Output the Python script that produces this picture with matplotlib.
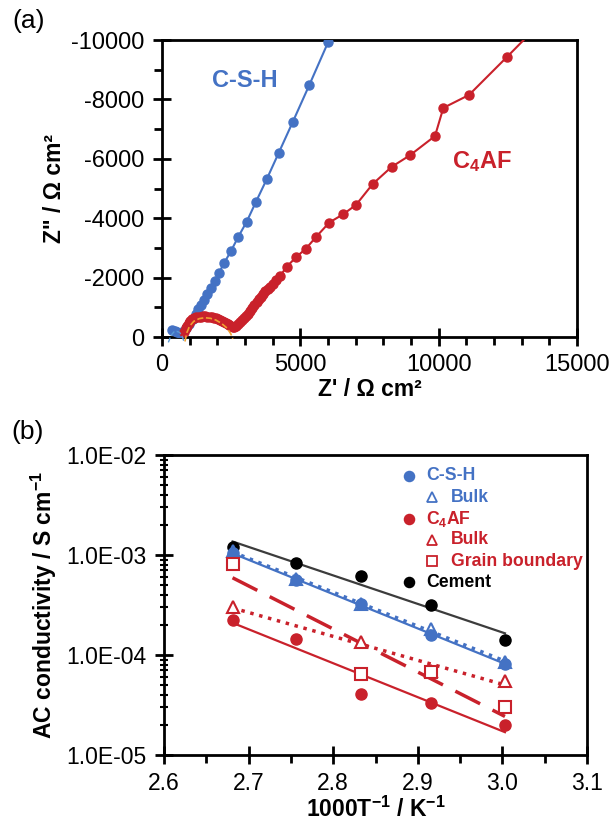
import numpy as np
import matplotlib
matplotlib.use("Agg")
import matplotlib.pyplot as plt
from matplotlib.ticker import MultipleLocator, LogLocator, FuncFormatter, NullFormatter

plt.rcParams['font.family'] = ['Liberation Sans', 'DejaVu Sans']
# every math string in this figure is bold
plt.rcParams['mathtext.fontset'] = 'custom'
plt.rcParams['mathtext.rm'] = 'Liberation Sans:bold'
plt.rcParams['mathtext.default'] = 'rm'
plt.rcParams['axes.unicode_minus'] = False

BLUE = '#4472C4'
RED = '#C9212B'
ORANGE = '#F0A030'
DARK = '#3C3C3C'

# ---- (a) Nyquist data ----
csh_zre = [350, 460, 560, 640, 711, 867, 988, 1108, 1217, 1313, 1410, 1518, 1639,
           1760, 1916, 2060, 2253, 2494, 2759, 3060, 3398, 3783, 4217, 4723, 5325, 6012]
csh_zim = [-230, -200, -160, -150, -178, -293, -438, -616, -774, -933, -1077, -1246, -1438,
           -1640, -1895, -2165, -2502, -2895, -3377, -3880, -4555, -5308, -6197, -7234, -8485, -9943]

c4af_zre = [800, 850, 900, 960, 1020, 1090, 1160, 1240, 1320, 1400, 1480, 1560, 1640, 1720,
            1800, 1880, 1960, 2040, 2110, 2180, 2250, 2310, 2370, 2430, 2490, 2550, 2610,
            2670, 2740, 2810, 2880, 2950, 3020, 3100, 3180, 3260, 3340, 3420, 3500, 3580,
            3660, 3740, 3820, 3900, 4000, 4120, 4265, 4506, 4843, 5205, 5566, 6048, 6554,
            7012, 7614, 8301, 8964, 9867, 10169, 11096, 12482, 13600]
c4af_zim = [-180, -290, -380, -460, -530, -590, -630, -660, -680, -690, -695, -695, -690, -680,
            -670, -655, -635, -610, -580, -545, -505, -465, -425, -390, -360, -345, -350,
            -380, -430, -490, -560, -630, -700, -790, -880, -980, -1080, -1180, -1270, -1360,
            -1450, -1540, -1620, -1700, -1800, -1916, -2050, -2364, -2686, -2977, -3368, -3856, -4137,
            -4448, -5151, -5730, -6120, -6767, -7715, -8150, -9442, -10500]

# equivalent-circuit fit curves
csh_fit_zre = [230, 330, 430, 530, 630, 720, 795]
csh_fit_zim = [180, -60, -170, -190, -160, -40, 150]
c4af_fit_zre = [830, 900, 1000, 1150, 1350, 1550, 1750, 1950, 2150, 2350, 2480, 2560]
c4af_fit_zim = [150, -150, -370, -530, -620, -650, -630, -570, -460, -300, -120, 60]

# ---- (b) Arrhenius data ----
inv_t = [2.681, 2.756, 2.833, 2.916, 3.003]
csh_sigma = [1.05e-3, 5.6e-4, 3.2e-4, 1.6e-4, 8.2e-5]
csh_bulk = [1.1e-3, 5.7e-4, 3.25e-4, 1.8e-4, 8.5e-5]
c4af_sigma = [2.25e-4, 1.45e-4, 4.1e-5, 3.3e-5, 2.0e-5]
c4af_inv_t = [2.681, 2.833, 2.916, 3.003]
c4af_bulk = [3.0e-4, 1.35e-4, 6.9e-5, 5.5e-5]
c4af_gb = [8.2e-4, 6.5e-5, 6.8e-5, 3.0e-5]
cement_sigma = [1.2e-3, 8.4e-4, 6.1e-4, 3.15e-4, 1.42e-4]

fig = plt.figure(figsize=(6.15, 8.22), dpi=100)
ax1 = fig.add_axes([0.2634, 0.5900, 0.6748, 0.3613])
ax2 = fig.add_axes([0.2667, 0.0815, 0.6878, 0.3650])

# ---------------- panel (a) ----------------
ax1.plot(csh_zre, csh_zim, '-o', color=BLUE, lw=1.5, ms=6.5, zorder=3)
ax1.plot(c4af_zre, c4af_zim, '-o', color=RED, lw=1.5, ms=6.5, zorder=3)
ax1.plot(csh_fit_zre, csh_fit_zim, '--', color='#5B9BD5', lw=1, clip_on=False, zorder=4)
ax1.plot(c4af_fit_zre, c4af_fit_zim, '--', color=ORANGE, lw=1.2, clip_on=False, zorder=4)

ax1.set_xlim(0, 15000)
ax1.set_ylim(0, -10000)
ax1.xaxis.set_major_locator(MultipleLocator(5000))
ax1.xaxis.set_minor_locator(MultipleLocator(1000))
ax1.yaxis.set_major_locator(MultipleLocator(2000))
ax1.yaxis.set_minor_locator(MultipleLocator(1000))
ax1.set_xlabel("Z' / Ω cm²", fontsize=16.5, fontweight='bold', labelpad=1)
ax1.set_ylabel('Z" / Ω cm²', fontsize=16.5, fontweight='bold', labelpad=4)
ax1.text(0.20, 0.865, 'C-S-H', color=BLUE, fontsize=17, fontweight='bold',
         ha='center', va='center', transform=ax1.transAxes)
ax1.text(0.77, 0.59, 'C$_4$AF', color=RED, fontsize=17, fontweight='bold',
         ha='center', va='center', transform=ax1.transAxes)

# ---------------- panel (b) ----------------
def fit_line(ax, xs, ys, color, ls, lw):
    k, b = np.polyfit(xs, np.log10(ys), 1)
    xx = np.array([xs[0], xs[-1]])
    ax.plot(xx, 10 ** (k * xx + b), linestyle=ls, color=color, lw=lw, zorder=2)

fit_line(ax2, inv_t, cement_sigma, DARK, '-', 1.6)
fit_line(ax2, inv_t, csh_sigma, BLUE, '-', 1.6)
fit_line(ax2, inv_t, csh_bulk, BLUE, ':', 2.5)
fit_line(ax2, inv_t, c4af_sigma, RED, '-', 1.6)
fit_line(ax2, c4af_inv_t, c4af_bulk, RED, ':', 2.5)
fit_line(ax2, c4af_inv_t, c4af_gb, RED, (0, (8, 4)), 2.5)

ax2.plot(inv_t, cement_sigma, 'o', color='black', ms=8, zorder=3)
ax2.plot(inv_t, csh_sigma, 'o', color=BLUE, ms=8, zorder=3)
ax2.plot(inv_t, csh_bulk, '^', mfc='none', mec=BLUE, mew=1.5, ms=8.5, zorder=4)
ax2.plot(inv_t, c4af_sigma, 'o', color=RED, ms=8, zorder=3)
ax2.plot(c4af_inv_t, c4af_bulk, '^', mfc='white', mec=RED, mew=1.5, ms=9, zorder=4)
ax2.plot(c4af_inv_t, c4af_gb, 's', mfc='white', mec=RED, mew=1.5, ms=9, zorder=4)

ax2.set_yscale('log')
ax2.set_xlim(2.6, 3.1)
ax2.set_ylim(1e-5, 1e-2)
ax2.xaxis.set_major_locator(MultipleLocator(0.1))
ax2.xaxis.set_minor_locator(MultipleLocator(0.05))
ax2.xaxis.set_major_formatter(FuncFormatter(lambda v, p: f"{v:.1f}"))
ax2.yaxis.set_major_locator(LogLocator(base=10, numticks=10))
ax2.yaxis.set_minor_locator(LogLocator(base=10, subs=np.arange(2, 10), numticks=10))
ax2.yaxis.set_minor_formatter(NullFormatter())
ax2.yaxis.set_major_formatter(FuncFormatter(lambda v, p: f"{v:.1E}"))
ax2.set_xlabel(r"1000T$^{-1}$ / K$^{-1}$", fontsize=16.5, fontweight='bold', labelpad=1)
ax2.set_ylabel(r"AC conductivity / S cm$^{-1}$", fontsize=16.5, fontweight='bold', labelpad=5)

# legend, built by hand to keep the indented sub-entries
legend_rows = [('C-S-H', BLUE, 'o', 'full', 0),
               ('Bulk', BLUE, '^', 'none', 1),
               ('C$_4$AF', RED, 'o', 'full', 0),
               ('Bulk', RED, '^', 'none', 1),
               ('Grain boundary', RED, 's', 'none', 1),
               ('Cement', 'black', 'o', 'full', 0)]
for i, (label, col, mk, fill, indent) in enumerate(legend_rows):
    y = 0.93 - i * 0.071
    xm = 0.579 + indent * 0.055
    ax2.plot([xm], [y], mk, transform=ax2.transAxes, color=col,
             mfc=col if fill == 'full' else 'none', mec=col, mew=1.3,
             ms=7 if fill == 'full' else 6.5, clip_on=False, zorder=5)
    ax2.text(xm + 0.041 + indent * 0.004, y, label, color=col, fontsize=12.7,
             fontweight='bold', va='center', ha='left', transform=ax2.transAxes)

for ax in (ax1, ax2):
    for s in ax.spines.values():
        s.set_linewidth(2)
    ax.tick_params(which='major', direction='inout', length=13, width=2, labelsize=17, pad=6)
    ax.tick_params(which='minor', direction='out', length=6, width=2)
ax2.tick_params(axis='y', which='minor', direction='inout', length=6, width=1.5)
ax2.tick_params(labelsize=16.5)

fig.text(0.047, 0.975, '(a)', fontsize=19, ha='center', va='center')
fig.text(0.045, 0.474, '(b)', fontsize=19, ha='center', va='center')

fig.savefig('out.png', dpi=100)
